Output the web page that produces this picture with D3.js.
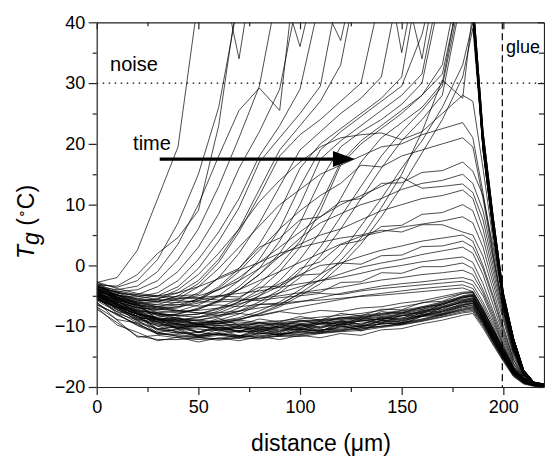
<!DOCTYPE html>
<html lang="en">
<head>
<meta charset="UTF-8" />
<title>Tg profiles vs distance</title>
<script src="https://d3js.org/d3.v7.min.js"></script>
<style>
  body { margin: 0; background: #fff; }
  svg { display: block; font-family: "Liberation Sans", Arial, Helvetica, sans-serif; }
  .profile { fill: none; stroke: #000; stroke-width: 0.7; stroke-linejoin: round; }
  .axis path, .axis line { stroke: #222; stroke-width: 1.2; }
  .axis text { font-size: 18px; fill: #000; }
</style>
</head>
<body>
<svg id="chart" width="545" height="458"></svg>
<script>
// distance grid (um) shared by every profile
const distance = [0,10,20,30,40,50,60,70,80,90,100,110,120,130,140,150,160,170,180,185,190,195,200,205,210,215,220];

const xTicks = [0, 50, 100, 150, 200];
const xMinor = [25, 75, 125, 175];
const yTicks = [-20, -10, 0, 10, 20, 30, 40];
const yMinor = [-15, -5, 5, 15, 25, 35];

const noiseLevel = 30;
const glueEdge = 199.5;

// early profiles: the dense band near -10
const early = [
  [-4.5,-6.5,-8.9,-9.3,-10.4,-9.6,-10.8,-10.0,-11.0,-9.8,-10.3,-9.2,-9.8,-8.6,-9.0,-7.8,-7.9,-6.3,-5.6,-5.3,-8.2,-11.4,-14.5,-17.3,-18.9,-19.5,-19.7],
  [-5.8,-7.6,-9.4,-10.5,-11.2,-11.0,-11.4,-10.8,-10.9,-10.5,-10.6,-10.2,-9.8,-9.5,-9.1,-8.8,-8.2,-7.3,-6.4,-6.0,-8.8,-11.9,-14.9,-17.6,-19.0,-19.6,-19.8],
  [-3.2,-5.6,-6.5,-8.9,-8.7,-9.9,-9.2,-10.4,-9.3,-10.2,-9.0,-9.6,-8.5,-8.9,-7.6,-7.9,-6.8,-6.5,-5.1,-4.8,-7.6,-10.8,-14.0,-17.0,-18.7,-19.4,-19.6],
  [-6.5,-8.0,-9.8,-11.0,-11.7,-11.9,-11.5,-11.8,-11.2,-11.4,-11.0,-10.6,-10.3,-10.0,-9.7,-9.4,-8.8,-8.0,-7.2,-6.9,-9.4,-12.3,-15.2,-17.9,-19.2,-19.7,-19.9],
  [-4.0,-6.6,-8.0,-10.5,-10.1,-11.0,-10.2,-10.9,-9.9,-10.8,-9.6,-10.2,-9.1,-9.7,-8.6,-8.8,-7.4,-7.2,-5.9,-5.5,-8.4,-11.6,-14.7,-17.5,-19.0,-19.5,-19.7],
  [-5.0,-7.2,-9.0,-9.8,-10.4,-10.9,-10.5,-11.0,-10.7,-10.3,-10.4,-10.0,-9.7,-9.1,-8.9,-8.6,-7.9,-7.0,-6.0,-5.8,-8.6,-11.7,-14.8,-17.5,-19.0,-19.5,-19.8],
  [-2.6,-5.2,-6.2,-8.9,-8.5,-9.8,-8.7,-9.8,-8.8,-9.3,-8.4,-9.0,-7.9,-8.3,-7.2,-7.3,-6.1,-5.9,-4.6,-4.5,-7.4,-10.6,-13.8,-16.9,-18.6,-19.3,-19.6],
  [-6.0,-9.0,-11.8,-11.5,-11.9,-12.2,-12.0,-11.6,-11.9,-11.5,-11.3,-11.0,-10.7,-10.5,-10.0,-9.6,-9.0,-8.2,-7.4,-7.2,-9.6,-12.6,-15.4,-18.0,-19.3,-19.7,-19.9],
  [-4.8,-6.8,-7.5,-10.0,-9.6,-11.0,-9.8,-11.0,-10.5,-11.1,-9.8,-10.8,-9.5,-10.0,-9.0,-9.3,-8.0,-7.7,-6.5,-6.2,-9.0,-12.0,-15.0,-17.7,-19.1,-19.6,-19.8],
  [-3.8,-5.4,-7.4,-8.8,-9.6,-10.0,-10.3,-9.9,-10.2,-10.0,-9.7,-9.5,-9.1,-8.7,-8.4,-8.0,-7.3,-6.5,-5.4,-5.0,-7.9,-11.1,-14.3,-17.2,-18.8,-19.4,-19.6],
  [-5.4,-7.6,-8.3,-10.8,-10.6,-11.8,-11.2,-11.7,-10.7,-11.6,-10.5,-10.9,-9.8,-10.8,-9.4,-9.6,-8.3,-8.0,-6.8,-6.6,-9.1,-12.2,-15.1,-17.8,-19.2,-19.6,-19.8],
  [-4.3,-6.4,-8.4,-9.2,-9.8,-10.1,-9.8,-10.0,-9.6,-9.8,-9.3,-9.1,-8.8,-8.5,-8.2,-7.8,-7.2,-6.3,-5.3,-5.1,-8.0,-11.2,-14.4,-17.3,-18.9,-19.4,-19.7],
  [-6.8,-8.9,-9.5,-11.3,-11.0,-11.6,-11.3,-12.0,-11.2,-11.4,-10.8,-11.2,-10.0,-10.5,-9.5,-9.7,-8.4,-8.2,-7.0,-6.8,-9.3,-12.4,-15.3,-17.9,-19.2,-19.7,-19.9],
  [-3.6,-5.8,-8.0,-9.6,-10.2,-9.9,-10.4,-10.7,-10.3,-10.1,-10.2,-9.7,-9.4,-9.2,-8.7,-8.3,-7.6,-6.8,-5.8,-5.5,-8.4,-11.5,-14.6,-17.4,-18.9,-19.5,-19.7],
  [-5.2,-7.9,-9.0,-11.1,-10.4,-11.6,-10.5,-11.6,-10.4,-11.3,-10.3,-10.8,-9.6,-10.2,-9.1,-9.4,-8.1,-7.9,-6.6,-6.3,-9.0,-12.1,-15.0,-17.7,-19.1,-19.6,-19.8],
  [-4.1,-5.2,-6.8,-8.2,-9.0,-9.6,-9.9,-9.6,-9.9,-9.5,-9.6,-9.2,-8.9,-8.6,-8.1,-7.5,-7.0,-6.1,-5.0,-4.7,-7.7,-10.9,-14.1,-17.1,-18.8,-19.4,-19.6],
  [-6.2,-8.2,-9.6,-11.2,-11.6,-11.8,-12.1,-11.9,-11.5,-11.7,-11.4,-11.1,-10.8,-10.2,-10.0,-9.7,-9.1,-8.4,-7.6,-7.4,-9.8,-12.7,-15.5,-18.1,-19.4,-19.8,-20.0],
  [-4.6,-7.3,-8.3,-10.5,-9.9,-11.1,-10.2,-10.8,-10.1,-10.9,-9.7,-10.4,-9.2,-9.8,-8.6,-9.1,-7.7,-7.5,-6.2,-5.9,-8.7,-11.8,-14.9,-17.6,-19.0,-19.5,-19.8],
  [-3.4,-4.8,-6.4,-7.8,-8.7,-9.2,-9.5,-9.3,-9.6,-9.4,-9.1,-8.9,-8.6,-8.2,-7.9,-7.4,-6.8,-6.0,-5.2,-4.9,-7.8,-11.0,-14.2,-17.1,-18.8,-19.4,-19.6],
  [-5.6,-7.0,-8.6,-10.0,-11.0,-11.5,-11.2,-11.6,-11.0,-11.3,-10.8,-10.6,-10.5,-10.0,-9.6,-9.1,-8.4,-7.6,-6.8,-6.5,-9.2,-12.2,-15.1,-17.8,-19.2,-19.7,-19.9],
  [-4.9,-6.1,-8.7,-8.8,-10.5,-10.0,-10.5,-10.1,-10.6,-10.2,-10.7,-9.5,-10.1,-9.0,-9.5,-8.2,-8.4,-6.9,-6.1,-5.8,-8.6,-11.7,-14.8,-17.5,-19.0,-19.5,-19.7],
  [-7.2,-9.4,-11.6,-12.2,-12.2,-11.9,-12.3,-11.9,-12.1,-11.6,-11.7,-11.2,-10.9,-10.7,-10.2,-9.8,-9.2,-8.5,-7.8,-7.6,-10.0,-12.9,-15.6,-18.2,-19.4,-19.8,-20.0],
  [-3.9,-5.6,-7.8,-9.0,-9.7,-10.3,-10.1,-10.4,-10.0,-9.7,-9.9,-9.4,-9.3,-8.9,-8.5,-8.2,-7.5,-6.7,-5.7,-5.4,-8.3,-11.4,-14.5,-17.3,-18.9,-19.5,-19.7],
  [-5.3,-6.9,-9.2,-10.4,-10.9,-11.4,-11.0,-10.7,-11.3,-10.8,-10.5,-10.7,-10.1,-9.9,-9.3,-8.9,-8.3,-7.5,-6.5,-6.2,-8.9,-12.0,-14.9,-17.7,-19.1,-19.6,-19.8],
  [-4.4,-5.9,-7.6,-8.9,-9.3,-9.7,-9.5,-9.8,-9.4,-9.6,-9.2,-9.0,-8.7,-8.4,-8.0,-7.7,-7.0,-6.3,-5.2,-5.0,-7.9,-11.1,-14.3,-17.2,-18.8,-19.4,-19.7],
  [-6.4,-8.0,-9.9,-11.3,-11.4,-11.7,-11.3,-11.5,-11.8,-11.2,-11.1,-10.9,-10.6,-10.3,-10.1,-9.5,-8.9,-8.1,-7.3,-7.0,-9.5,-12.5,-15.3,-17.9,-19.3,-19.7,-19.9],
  [-5.1,-6.3,-7.8,-9.4,-10.2,-10.5,-10.7,-10.2,-10.4,-10.2,-10.0,-9.6,-9.5,-9.0,-8.8,-8.3,-7.7,-6.9,-6.0,-5.7,-8.5,-11.6,-14.7,-17.4,-18.9,-19.5,-19.7],
  [-3.0,-5.2,-7.2,-8.0,-8.8,-9.0,-9.3,-9.0,-9.4,-9.1,-8.8,-8.5,-8.2,-7.9,-7.4,-6.8,-6.2,-5.4,-4.6,-4.4,-7.3,-10.5,-13.7,-16.8,-18.6,-19.3,-19.6],
  [-3.5,-4.9,-6.0,-6.8,-7.4,-7.8,-8.2,-7.9,-8.3,-7.6,-8.0,-7.4,-7.6,-7.0,-6.8,-6.2,-5.8,-5.1,-4.4,-4.3,-7.2,-10.4,-13.6,-16.7,-18.5,-19.3,-19.6],
  [-6.9,-9.8,-11.0,-12.4,-11.8,-12.6,-11.9,-12.4,-11.7,-12.2,-11.5,-11.9,-11.2,-11.5,-10.6,-10.4,-9.6,-9.0,-8.2,-7.9,-10.3,-13.1,-15.8,-18.3,-19.5,-19.9,-20.0]
];

// middle profiles: rise part way, peak near 180 um
const middle = [
  [-3.9,-5.0,-5.8,-5.5,-4.0,-1.5,2.0,6.0,10.5,14.0,17.0,19.5,21.0,21.5,21.8,20.7,22.0,25.0,28.0,27.0,16.0,4.0,-6.0,-13.5,-18.0,-19.4,-19.6],
  [-4.3,-5.4,-6.3,-6.4,-5.5,-3.5,-0.5,3.0,6.5,10.0,12.5,15.0,16.5,18.0,19.5,20.0,21.5,22.5,23.5,21.0,12.0,2.0,-7.0,-14.0,-18.2,-19.4,-19.6],
  [-4.7,-5.9,-6.9,-7.3,-7.0,-5.8,-3.8,-1.0,2.5,6.0,9.0,11.5,13.5,16.5,16.2,18.0,19.0,20.0,21.0,19.5,11.0,1.5,-7.5,-14.0,-18.0,-19.3,-19.6],
  [-3.6,-4.9,-5.7,-6.0,-5.0,-4.8,-2.0,-0.5,3.0,4.5,7.5,8.0,10.5,11.0,13.5,13.6,15.3,15.6,17.0,15.5,11.5,3.0,-6.0,-13.0,-17.5,-19.3,-19.6],
  [-5.1,-6.5,-7.6,-8.2,-8.0,-7.2,-5.8,-4.0,-1.5,1.5,4.5,7.0,8.5,10.0,11.0,12.5,13.5,14.0,15.0,13.5,9.0,1.0,-7.0,-13.5,-17.8,-19.3,-19.6],
  [-4.0,-5.3,-6.2,-6.8,-6.5,-5.5,-4.0,-2.0,0.5,3.0,5.5,8.0,10.0,11.5,13.0,14.5,12.7,13.0,13.4,12.0,7.5,0.0,-7.5,-14.0,-18.0,-19.4,-19.6],
  [-3.3,-4.5,-5.5,-5.8,-5.5,-5.0,-4.0,-2.5,-0.5,1.5,3.5,5.0,6.0,7.5,9.0,10.0,11.0,11.5,12.4,11.0,6.0,-1.0,-8.0,-14.5,-18.0,-19.3,-19.6],
  [-5.4,-6.8,-8.0,-8.7,-9.0,-8.6,-7.8,-6.5,-5.0,-3.4,-0.5,0.6,3.4,4.1,6.4,6.6,8.4,8.7,10.0,9.0,4.5,-2.0,-8.5,-14.5,-18.2,-19.4,-19.6],
  [-4.5,-5.7,-6.6,-7.0,-6.8,-6.2,-5.2,-4.0,-2.5,-1.0,0.5,2.0,3.5,4.8,5.5,6.3,6.8,7.3,8.0,7.0,3.0,-3.0,-9.0,-15.0,-18.3,-19.4,-19.6],
  [-3.4,-4.4,-5.0,-5.0,-4.5,-3.5,-2.2,-0.8,0.5,2.0,3.0,3.8,4.5,5.0,5.8,5.5,6.7,6.7,5.5,5.0,1.5,-4.0,-10.0,-15.5,-18.5,-19.4,-19.6],
  [-5.0,-6.2,-7.4,-8.0,-8.2,-8.0,-7.2,-6.0,-4.6,-3.0,-1.5,0.0,0.4,1.5,2.5,3.2,4.0,4.5,5.0,4.0,0.0,-5.0,-10.5,-15.5,-18.5,-19.4,-19.6],
  [-3.8,-4.8,-5.6,-6.0,-6.1,-5.8,-5.0,-5.2,-3.6,-3.4,-1.6,-1.4,0.4,0.2,1.6,1.7,3.1,3.2,4.0,3.0,-0.5,-5.5,-11.0,-16.0,-18.6,-19.4,-19.6],
  [-4.2,-5.5,-6.6,-7.2,-7.5,-7.4,-7.0,-6.3,-5.5,-4.5,-3.5,-2.5,-1.4,-0.3,0.4,1.0,1.8,2.4,3.0,2.0,-1.5,-6.5,-11.5,-16.2,-18.7,-19.4,-19.6],
  [-2.7,-3.8,-4.6,-5.0,-5.2,-5.3,-5.0,-4.6,-4.2,-3.6,-3.0,-2.5,-2.0,-1.3,-0.5,0.0,0.6,1.0,1.4,0.5,-3.0,-7.5,-12.0,-16.5,-18.8,-19.4,-19.6],
  [-4.9,-6.0,-7.0,-7.8,-8.3,-8.5,-8.2,-7.6,-6.4,-6.4,-4.6,-4.4,-2.8,-2.7,-1.2,-1.3,-0.2,-0.2,0.4,-0.5,-4.0,-8.0,-12.5,-16.8,-18.9,-19.5,-19.6],
  [-3.5,-4.4,-5.1,-5.6,-5.8,-6.0,-6.0,-5.8,-5.4,-5.0,-4.5,-4.0,-3.6,-3.0,-2.4,-2.0,-1.5,-1.2,-0.8,-1.5,-4.5,-8.5,-13.0,-17.0,-19.0,-19.5,-19.6],
  [-4.6,-5.6,-6.4,-7.0,-7.5,-7.8,-7.8,-7.5,-7.0,-6.5,-6.0,-5.3,-4.6,-4.0,-3.4,-3.0,-2.7,-2.3,-2.0,-2.5,-5.0,-9.0,-13.2,-17.0,-19.0,-19.5,-19.7],
  [-3.1,-4.2,-4.8,-5.2,-5.5,-5.4,-5.7,-5.5,-5.8,-5.3,-5.0,-4.6,-4.8,-4.2,-3.8,-3.5,-3.2,-2.9,-2.6,-3.2,-6.0,-9.5,-13.5,-17.2,-19.0,-19.5,-19.7],
  [-5.6,-6.9,-8.0,-8.8,-9.2,-9.4,-9.2,-8.8,-8.2,-7.5,-6.8,-6.2,-5.6,-5.0,-4.6,-4.2,-3.8,-3.5,-3.2,-3.8,-6.5,-10.0,-14.0,-17.5,-19.0,-19.5,-19.7],
  [-4.0,-5.2,-6.0,-6.5,-6.4,-6.7,-6.5,-6.8,-6.4,-6.2,-5.9,-5.7,-5.4,-5.1,-4.9,-4.6,-4.3,-4.0,-3.7,-4.3,-7.0,-10.5,-14.2,-17.5,-19.0,-19.5,-19.7]
];

// late profiles: the front runs past 40 (off the top), noisy above
const late = [
  [-2.8,-2.0,2.5,11.0,19.5,44,50,34,55,52,58,54,57,53,56,60,55,58,52,42,20,6.5,-5.5,-12.5,-17.5,-19.3,-19.6],
  [-3.2,-3.4,-1.5,2.0,4.6,9.0,23,46,52,48,55,50,53,57,52,55,58,54,56,41,19,5.5,-6,-13,-17.8,-19.4,-19.7],
  [-3.0,-3.6,-2.5,1.0,7.0,15,26,44,50,56,51,54,58,52,55,53,57,55,50,43,21,7.5,-5,-12,-17.3,-19.2,-19.6],
  [-3.5,-4.0,-3.4,-1.0,3.5,10,18,25.5,29.2,25.5,55,52,48,56,53,57,51,55,54,41.5,19.5,6,-6.5,-13.5,-18,-19.4,-19.7],
  [-3.8,-4.3,-4.0,-2.5,1.0,6.0,13,21,29.5,47,36,50,55,52,56,54,50,57,53,44,22,8,-4.5,-12,-17.2,-19.2,-19.5],
  [-3.4,-4.6,-4.8,-3.5,-1.0,3.0,8.5,16,22,29,46,52,49,55,58,52,56,53,55,42,20,6.5,-5.5,-12.5,-17.5,-19.3,-19.6],
  [-4.0,-5.0,-5.2,-4.5,-2.5,1.0,5.5,11,18,23,29,44,37,52,55,50,54,57,52,41,19,5.5,-6,-13,-17.8,-19.4,-19.7],
  [-4.4,-4.8,-5.5,-5.0,-3.5,-0.5,4.0,9.5,17,21,25,29.5,47,53,50,56,52,55,58,43,21,7.5,-5,-12,-17.3,-19.2,-19.6],
  [-3.7,-5.2,-6.0,-5.5,-4.5,-2.5,1.0,6.0,12.5,19,23,27,33,50,54,35,52,56,53,41.5,19.5,6,-6.5,-13.5,-18,-19.4,-19.7],
  [-4.8,-5.5,-6.2,-6.0,-5.0,-3.0,0.5,5.5,11.5,18,21.5,24,27,30,45,52,55,50,56,44,22,8,-4.5,-12,-17.2,-19.2,-19.5],
  [-4.2,-5.8,-6.5,-6.8,-6.0,-4.5,-2.0,2.0,7.0,13,19,22,25,27.5,31,48,34,53,55,42,20,6.5,-5.5,-12.5,-17.5,-19.3,-19.6],
  [-5.0,-6.0,-7.0,-7.2,-6.8,-5.5,-3.5,-0.5,3.5,9.0,16,20,22.5,25,27.5,31,50,55,52,41,19,5.5,-6,-13,-17.8,-19.4,-19.7],
  [-4.6,-6.3,-7.5,-7.8,-7.5,-6.5,-5.0,-2.5,1.0,6.0,13,19,22,24.5,27,29.5,38,52,56,43,21,7.5,-5,-12,-17.3,-19.2,-19.6],
  [-5.2,-6.8,-8.0,-8.5,-8.0,-7.0,-5.8,-3.5,-0.5,4.0,10,17.5,20.5,23,25.5,28,31.5,48,53,41.5,19.5,6,-6.5,-13.5,-18,-19.4,-19.7],
  [-4.0,-5.5,-6.8,-7.5,-7.8,-7.2,-6.0,-4.0,-1.5,2.0,7.0,14,19.5,22,24,26.5,30,46,51,44,22,8,-4.5,-12,-17.2,-19.2,-19.5],
  [-5.5,-7.0,-8.5,-9.0,-9.0,-8.5,-7.5,-6.0,-4.0,-1.0,3.0,9.0,16.5,20,22.5,25,28,33,50,42,20,6.5,-5.5,-12.5,-17.5,-19.3,-19.6],
  [-4.4,-6.0,-7.3,-8.0,-8.3,-8.0,-7.0,-5.5,-3.0,0.0,4.0,10,17,20.5,23,25.5,28,31.5,47,41,19,5.5,-6,-13,-17.8,-19.4,-19.7],
  [-5.0,-6.6,-8.0,-8.8,-9.2,-9.0,-8.3,-7.0,-5.0,-2.5,1.0,5.5,11,17,21,23.5,26,30,48,43,21,7.5,-5,-12,-17.3,-19.2,-19.6],
  [-4.9,-6.4,-7.8,-8.6,-9.0,-9.0,-8.5,-7.5,-6.0,-4.0,-1.0,3.0,8.0,13,18,22,25.5,29.5,46,41.5,19.5,6,-6.5,-13.5,-18,-19.4,-19.7],
  [-5.3,-6.9,-8.4,-9.3,-9.7,-9.6,-9.0,-8.0,-6.5,-4.5,-2.0,1.5,6.0,11,16,20.5,24,28,45,44,22,8,-4.5,-12,-17.2,-19.2,-19.5],
  [-4.7,-6.2,-7.9,-8.9,-9.4,-9.5,-9.2,-8.6,-7.5,-6.0,-4.0,-1.5,2.0,6.5,11,16,20.5,26,33,40,20.5,6.5,-5,-12.5,-17.5,-19.3,-19.6],
  [-5.6,-7.3,-8.8,-9.6,-10.0,-10.0,-9.6,-9.0,-8.0,-6.8,-5.0,-3.0,0.0,3.5,8.0,13,18.5,24,31,39,19.5,5.5,-6,-13,-17.8,-19.4,-19.7],
  [-5.1,-6.6,-8.1,-9.1,-9.6,-9.8,-9.5,-8.9,-7.9,-6.5,-4.6,-2.3,0.8,4.5,9.5,15,22,30.5,27.5,42,21,7,-5,-12.5,-17.5,-19.3,-19.6]
];

const width = 545, height = 458;
const margin = { top: 22.3, right: 1, bottom: 71, left: 96.7 };

const svg = d3.select("#chart");

const x = d3.scaleLinear().domain([0, 220]).range([margin.left, width - margin.right]);
const y = d3.scaleLinear().domain([-20, 40]).range([height - margin.bottom, margin.top]);

svg.append("clipPath").attr("id", "plot-clip")
  .append("rect")
  .attr("x", x(0)).attr("y", y(40))
  .attr("width", x(220) - x(0)).attr("height", y(-20) - y(40));

const line = d3.line()
  .x((d) => x(d[0]))
  .y((d) => y(d[1]));

const profiles = [...early, ...middle, ...late];

svg.append("g")
  .attr("clip-path", "url(#plot-clip)")
  .selectAll("path")
  .data(profiles)
  .join("path")
  .attr("class", "profile")
  .attr("d", (vals) => line(vals.map((v, i) => [distance[i], v])));

// noise level and glue boundary
svg.append("line")
  .attr("x1", x(0)).attr("x2", x(220))
  .attr("y1", y(noiseLevel)).attr("y2", y(noiseLevel))
  .attr("stroke", "#000").attr("stroke-width", 1.2)
  .attr("stroke-dasharray", "1.5,4.5");

svg.append("line")
  .attr("x1", x(glueEdge)).attr("x2", x(glueEdge))
  .attr("y1", y(40)).attr("y2", y(-20))
  .attr("stroke", "#000").attr("stroke-width", 1.2)
  .attr("stroke-dasharray", "7,4");

// axes
svg.append("g").attr("class", "axis")
  .attr("transform", `translate(0,${y(-20)})`)
  .call(d3.axisBottom(x).tickValues(xTicks).tickSize(8).tickSizeOuter(0).tickPadding(5));
svg.append("g").attr("class", "axis")
  .attr("transform", `translate(0,${y(-20)})`)
  .call(d3.axisBottom(x).tickValues(xMinor).tickSize(5).tickFormat(""))
  .select(".domain").remove();

svg.append("g").attr("class", "axis")
  .attr("transform", `translate(0,${y(40)})`)
  .call(d3.axisTop(x).tickValues(xTicks).tickSize(-7).tickSizeOuter(0).tickFormat(""));
svg.append("g").attr("class", "axis")
  .attr("transform", `translate(0,${y(40)})`)
  .call(d3.axisTop(x).tickValues(xMinor).tickSize(-4).tickFormat(""))
  .select(".domain").remove();

svg.append("g").attr("class", "axis")
  .attr("transform", `translate(${x(0)},0)`)
  .call(d3.axisLeft(y).tickValues(yTicks).tickSize(8).tickSizeOuter(0).tickPadding(3.5));
svg.append("g").attr("class", "axis")
  .attr("transform", `translate(${x(0)},0)`)
  .call(d3.axisLeft(y).tickValues(yMinor).tickSize(4).tickFormat(""))
  .select(".domain").remove();

svg.append("g").attr("class", "axis")
  .attr("transform", `translate(${x(220)},0)`)
  .call(d3.axisRight(y).tickValues(yTicks).tickSize(-6).tickSizeOuter(0).tickFormat(""));
svg.append("g").attr("class", "axis")
  .attr("transform", `translate(${x(220)},0)`)
  .call(d3.axisRight(y).tickValues(yMinor).tickSize(-5).tickFormat(""))
  .select(".domain").remove();

// time arrow
const arrowFrom = [31, 17.5];
const arrowTo = [127, 17.5];
const headLen = 22, headHalf = 8;
svg.append("line")
  .attr("x1", x(arrowFrom[0])).attr("y1", y(arrowFrom[1]))
  .attr("x2", x(arrowTo[0]) - headLen + 1).attr("y2", y(arrowTo[1]))
  .attr("stroke", "#000").attr("stroke-width", 3.2);
svg.append("path")
  .attr("fill", "#000")
  .attr("d", () => {
    const tx = x(arrowTo[0]), ty = y(arrowTo[1]);
    return `M${tx},${ty}L${tx - headLen},${ty - headHalf}L${tx - headLen},${ty + headHalf}Z`;
  });

// annotations
const notes = [
  { text: "noise", at: [6.6, 32.0], size: 20 },
  { text: "time", at: [17.9, 19.0], size: 20 },
  { text: "glue", at: [201.3, 35.0], size: 18 }
];
svg.selectAll("text.note")
  .data(notes)
  .join("text")
  .attr("class", "note")
  .attr("x", (d) => x(d.at[0]))
  .attr("y", (d) => y(d.at[1]))
  .attr("font-size", (d) => d.size)
  .text((d) => d.text);

// axis titles
svg.append("text")
  .attr("x", 321).attr("y", 451)
  .attr("text-anchor", "middle")
  .attr("font-size", 23)
  .text("distance (\u03bcm)");

const yTitle = svg.append("text")
  .attr("transform", "translate(33.5,222) rotate(-90)")
  .attr("text-anchor", "middle")
  .attr("font-size", 23);
yTitle.append("tspan").attr("font-style", "italic").text("T");
yTitle.append("tspan").attr("font-style", "italic").attr("dy", 5).text("g");
yTitle.append("tspan").attr("dy", -5).text(" (");
yTitle.append("tspan").attr("font-size", 14).attr("dy", -8).text("\u2218");
yTitle.append("tspan").attr("dy", 8).text("C)");
</script>
</body>
</html>
